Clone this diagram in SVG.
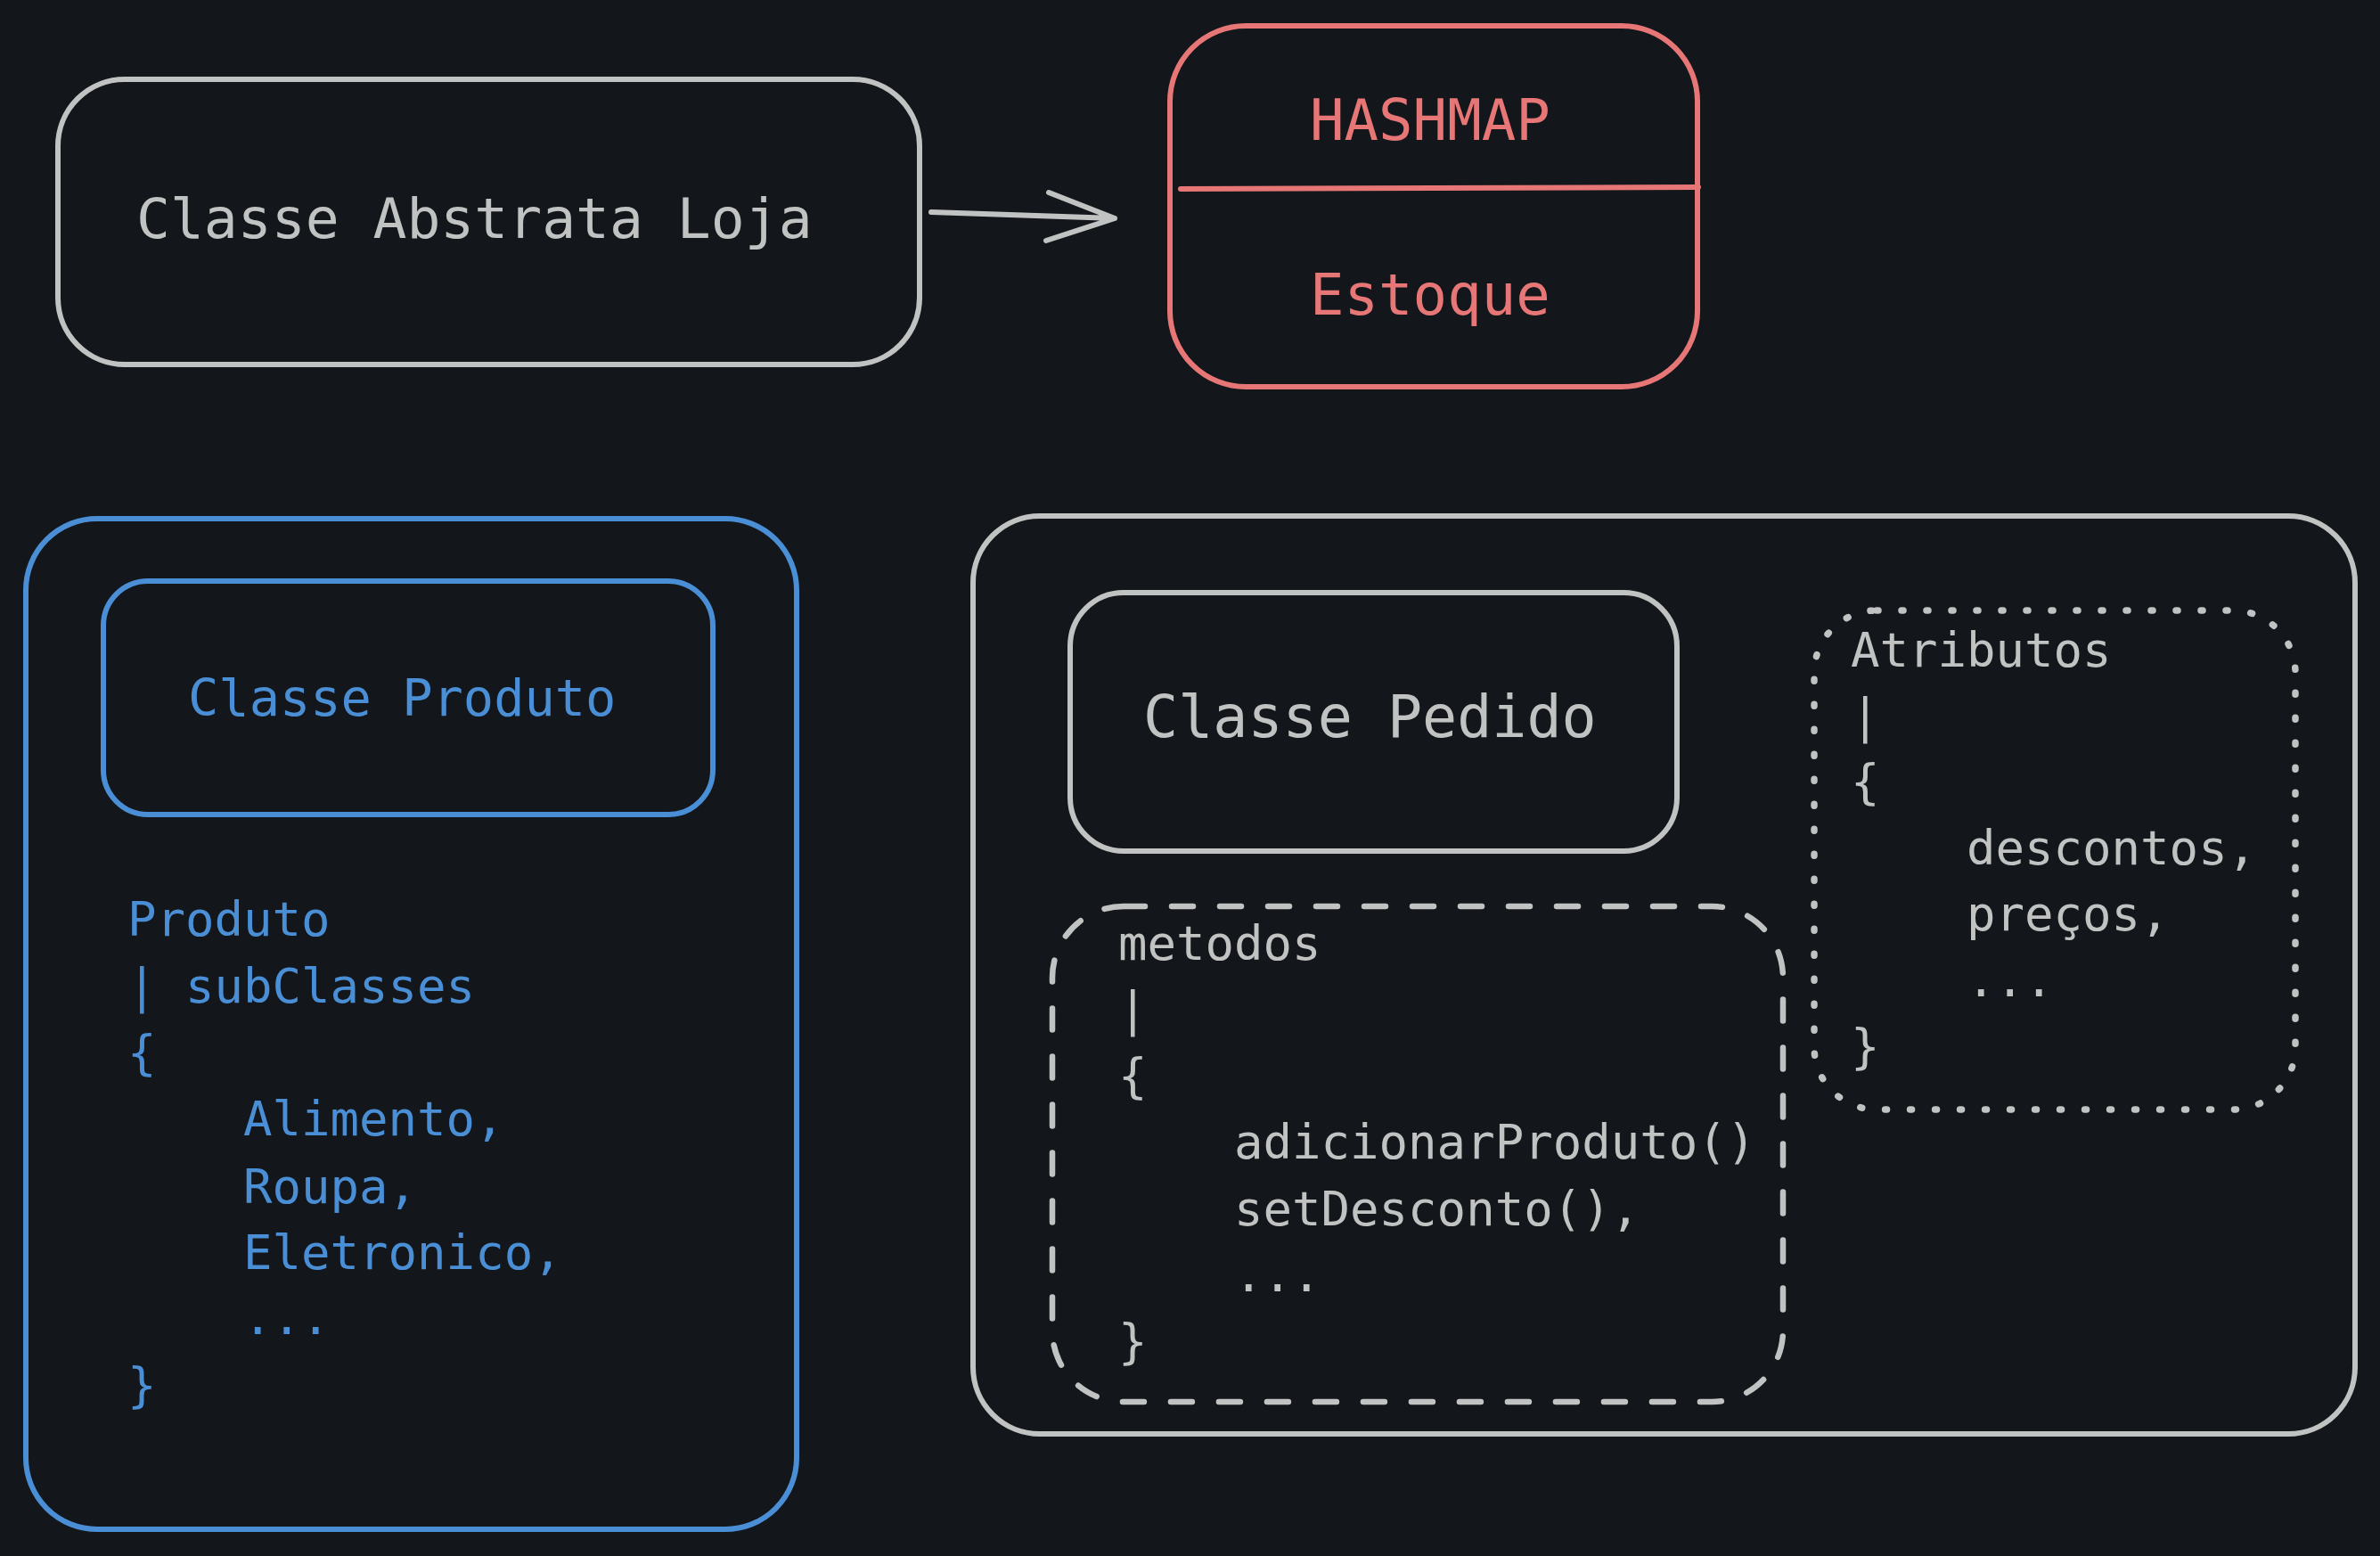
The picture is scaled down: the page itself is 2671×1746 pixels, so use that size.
<svg xmlns="http://www.w3.org/2000/svg" width="2671" height="1746" viewBox="0 0 2671 1746">
<style>
.box{fill:none;stroke-width:6;stroke-linecap:round;stroke-linejoin:round}
.g{stroke:#c1c3c2}
.b{stroke:#4a8fd6}
.r{stroke:#e77676}
.dash{stroke-dasharray:24 30;stroke-width:6.5}
.dot{stroke-dasharray:2 26;stroke-width:7.5}
text{font-family:"DejaVu Sans Mono","Liberation Mono",monospace}
.tg{fill:#c1c3c2}
.tb{fill:#4a8fd6}
.tr{fill:#e77676}
.code{font-size:54px}
</style>
<rect width="2671" height="1746" fill="#13161a"/>

<g id="loja">
<rect class="box g" x="65" y="89" width="967" height="320" rx="75"/>
<text class="tg" x="153" y="267" font-size="63">Classe Abstrata Loja</text>
</g>

<g id="hashmap">
<rect class="box r" x="1313" y="29" width="592" height="405" rx="85"/>
<line class="box r" x1="1325" y1="212" x2="1906" y2="210"/>
<text class="tr" x="1470" y="157" font-size="64">HASHMAP</text>
<text class="tr" x="1470" y="353" font-size="64">Estoque</text>
</g>

<g id="connectors">
<path class="box g" d="M1045 238 L1251 245 M1177 216 L1251 245 L1174 270"/>
</g>

<g id="produto-group">
<rect class="box b" x="29" y="582" width="865" height="1134" rx="80"/>
</g>
<g id="classe-produto">
<rect class="box b" x="116" y="652" width="684" height="262" rx="50"/>
<text class="tb" x="211" y="803" font-size="57">Classe Produto</text>
</g>
<g id="produto-code">
<text class="tb code" xml:space="preserve"><tspan x="143" y="1050">Produto</tspan><tspan x="143" y="1125">| subClasses</tspan><tspan x="143" y="1200">{</tspan><tspan x="143" y="1274">    Alimento,</tspan><tspan x="143" y="1350">    Roupa,</tspan><tspan x="143" y="1424">    Eletronico,</tspan><tspan x="143" y="1497">    ...</tspan><tspan x="143" y="1573">}</tspan></text>
</g>

<g id="pedido-group">
<rect class="box g" x="1092" y="579" width="1551" height="1030" rx="75"/>
</g>
<g id="classe-pedido">
<rect class="box g" x="1201" y="665" width="681" height="290" rx="60"/>
<text class="tg" x="1283" y="827" font-size="65">Classe Pedido</text>
</g>
<g id="metodos">
<rect class="box g dash" x="1181" y="1017" width="820" height="556" rx="80"/>
<text class="tg code" xml:space="preserve"><tspan x="1255" y="1077">metodos</tspan><tspan x="1255" y="1151">|</tspan><tspan x="1255" y="1226">{</tspan><tspan x="1255" y="1300">    adicionarProduto()</tspan><tspan x="1255" y="1375">    setDesconto(),</tspan><tspan x="1255" y="1449">    ...</tspan><tspan x="1255" y="1524">}</tspan></text>
</g>
<g id="atributos">
<rect class="box g dot" x="2036" y="685" width="540" height="560" rx="70"/>
<text class="tg code" xml:space="preserve"><tspan x="2077" y="748">Atributos</tspan><tspan x="2077" y="822">|</tspan><tspan x="2077" y="896">{</tspan><tspan x="2077" y="970">    descontos,</tspan><tspan x="2077" y="1044">    preços,</tspan><tspan x="2077" y="1118">    ...</tspan><tspan x="2077" y="1193">}</tspan></text>
</g>
</svg>
